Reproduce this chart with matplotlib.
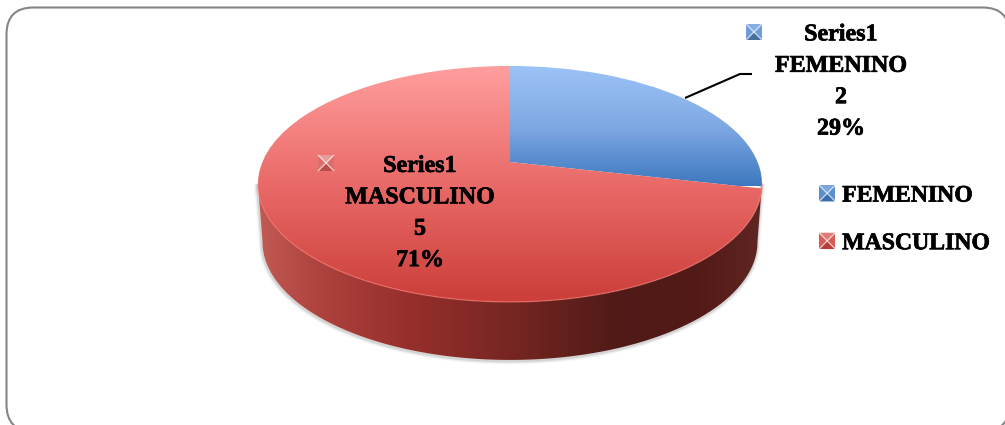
import numpy as np
import matplotlib
matplotlib.use("Agg")
import matplotlib.pyplot as plt
import matplotlib.patheffects as pe
from matplotlib.colors import LinearSegmentedColormap as LSC
from matplotlib.legend_handler import HandlerBase
from matplotlib.patches import FancyBboxPatch, Patch, Polygon, Rectangle
from matplotlib.path import Path
from matplotlib.transforms import Transform

categories = ["FEMENINO", "MASCULINO"]
values = [2, 5]
percent_labels = ["29%", "71%"]
series_name = "Series1"

FONT = "Liberation Serif"
CX, VY, K, A, B, DEPTH = 510.0, 162.0, 0.186, 113.9, 247.6, 58.0
FAT = [pe.withStroke(linewidth=0.5, foreground="black")]


class Perspective(Transform):
    input_dims = output_dims = 2

    def transform_non_affine(self, pts):
        pts = np.asarray(pts, float)
        d = 1 + K * pts[:, 1]
        return np.column_stack((CX + B * pts[:, 0] / d, VY - A * pts[:, 1] / d))

    def transform_path_non_affine(self, path):
        return Path(self.transform_non_affine(path.vertices), path.codes)


fig = plt.figure(figsize=(10.05, 4.25), dpi=100)
ax = fig.add_axes([0, 0, 1, 1])
wedges, _ = ax.pie(values, startangle=90, counterclock=False, radius=1,
                   colors=["none", "none"])
ax.set_aspect("auto")
ax.set_autoscale_on(False)
ax.set_xlim(0, 1005)
ax.set_ylim(425, 0)
ax.axis("off")
persp = Perspective()

# outer rounded frame
ax.add_patch(FancyBboxPatch((6.5, 7.5), 1003, 424, boxstyle="round,pad=0,rounding_size=27",
                            fc="white", ec="#868686", lw=1.5, zorder=0))

# outline of the pie
t = np.linspace(0, 2 * np.pi, 721)
rim = persp.transform_non_affine(np.column_stack((np.sin(t), np.cos(t))))
il, ir = rim[:, 0].argmin(), rim[:, 0].argmax()
low = rim[ir:il + 1]
under = low + [0, DEPTH]
under[:, 0] = CX + (under[:, 0] - CX) * 0.982
side_xy = np.vstack((under, low[::-1]))

# soft shadow under the side wall
for lw, al in [(5, .05), (3.5, .08), (2, .14)]:
    ax.add_patch(Polygon(side_xy + [-0.5, 1], closed=True, fc="none", ec="#555555",
                         lw=lw, alpha=al, zorder=1))

# side wall
side = Polygon(side_xy, closed=True, fc="none", ec="none", zorder=2)
ax.add_patch(side)
side_cmap = LSC.from_list("side", [(0, "#C25A54"), (.12, "#AE423E"), (.3, "#962F2C"),
                                   (.5, "#772622"), (.72, "#4F1A17"), (.88, "#531A17"),
                                   (1, "#602622")])
im = ax.imshow(np.linspace(0, 1, 256)[None, :], cmap=side_cmap, aspect="auto",
               extent=(258, 762, 370, 60), zorder=2)
im.set_clip_path(side)

# pie top
cmaps = [LSC.from_list("b", ["#9CC3F7", "#7FA9E3", "#3D78BF"]),
         LSC.from_list("r", ["#FF9E9E", "#E96A68", "#CB3E39"])]
extents = [(258, 763, 186, 66), (258, 763, 302, 66)]
for w, cm, ext in zip(wedges, cmaps, extents):
    w.set_transform(persp + ax.transData)
    w.set_zorder(3)
    w.set_edgecolor("none")
    w.set_clip_on(False)
    g = ax.imshow(np.linspace(0, 1, 256)[:, None], cmap=cm, aspect="auto",
                  extent=ext, zorder=3)
    g.set_clip_path(w)

# light edge on the front of the pie
ax.plot(low[:, 0], low[:, 1], color="#F4766F", lw=1.0, alpha=.6, zorder=4)


def pillow(axis_tr, target, x0, y0, x1, y1, base, light, dark):
    """Small bevelled legend key; y0 is the upper edge, y1 the lower edge."""
    xm, ym = (x0 + x1) / 2, (y0 + y1) / 2
    parts = [Rectangle((x0, min(y0, y1)), x1 - x0, abs(y1 - y0), fc=base, ec="none"),
             Polygon([(x0, y1), (x1, y1), (xm, ym)], fc=dark, ec="none"),
             Polygon([(x0, y0), (x1, y0), (xm, ym)], fc=light, ec="none")]
    for a, b in [((x0, y0), (x1, y1)), ((x1, y0), (x0, y1))]:
        parts.append(Polygon([a, b], closed=False, fc="none", ec="white", lw=0.9, alpha=.7))
    for p in parts:
        p.set_transform(axis_tr)
        target(p)
    return parts


KEY = {"FEMENINO": ("#5D8FD0", "#7AA5DF", "#3B6DAD"),
       "MASCULINO": ("#D65C58", "#E07C78", "#B53E3A")}
LIGHT_KEY = {"FEMENINO": ("#6E9DD8", "#86AEE4", "#47709F"),
             "MASCULINO": ("#DB6F6B", "#EA9A97", "#B94D49")}

# data labels
label_pos = [(841, 82, (746, 24, 762, 40)), (420, 213.5, (318, 155, 334, 171))]
for cat, val, pct, (tx, ty, key) in zip(categories, values, percent_labels, label_pos):
    ax.text(tx, ty, f"{series_name}\n{cat}\n{val}\n{pct}", ha="center", va="center",
            family=FONT, weight="bold", fontsize=17.3, linespacing=1.65, color="black",
            zorder=6, path_effects=FAT)
    pillow(ax.transData, lambda p: (p.set_zorder(6), ax.add_patch(p)), key[0], key[1], key[2], key[3],
           *LIGHT_KEY[cat])

# leader line
ax.plot([685, 740, 752], [98, 74, 74], color="black", lw=1.5, solid_capstyle="butt", zorder=6)


class KeyHandler(HandlerBase):
    def create_artists(self, legend, orig, xd, yd, w, h, fontsize, trans):
        arts = []
        pillow(trans, arts.append, -xd, -yd + h, -xd + w, -yd, *KEY[orig.get_label()])
        return arts


handles = [Patch(label=c) for c in categories]
leg = ax.legend(handles, categories, loc="upper left",
                bbox_to_anchor=(812, 178), bbox_transform=ax.transData,
                frameon=False, handler_map={Patch: KeyHandler()},
                prop={"family": FONT, "weight": "bold", "size": 17.1},
                handlelength=0.68, handleheight=0.68, handletextpad=0.29,
                labelspacing=1.1, borderpad=0.3, borderaxespad=0)
leg.set_zorder(6)
for txt in leg.get_texts():
    txt.set_path_effects(FAT)

fig.savefig("out.png", dpi=100)
